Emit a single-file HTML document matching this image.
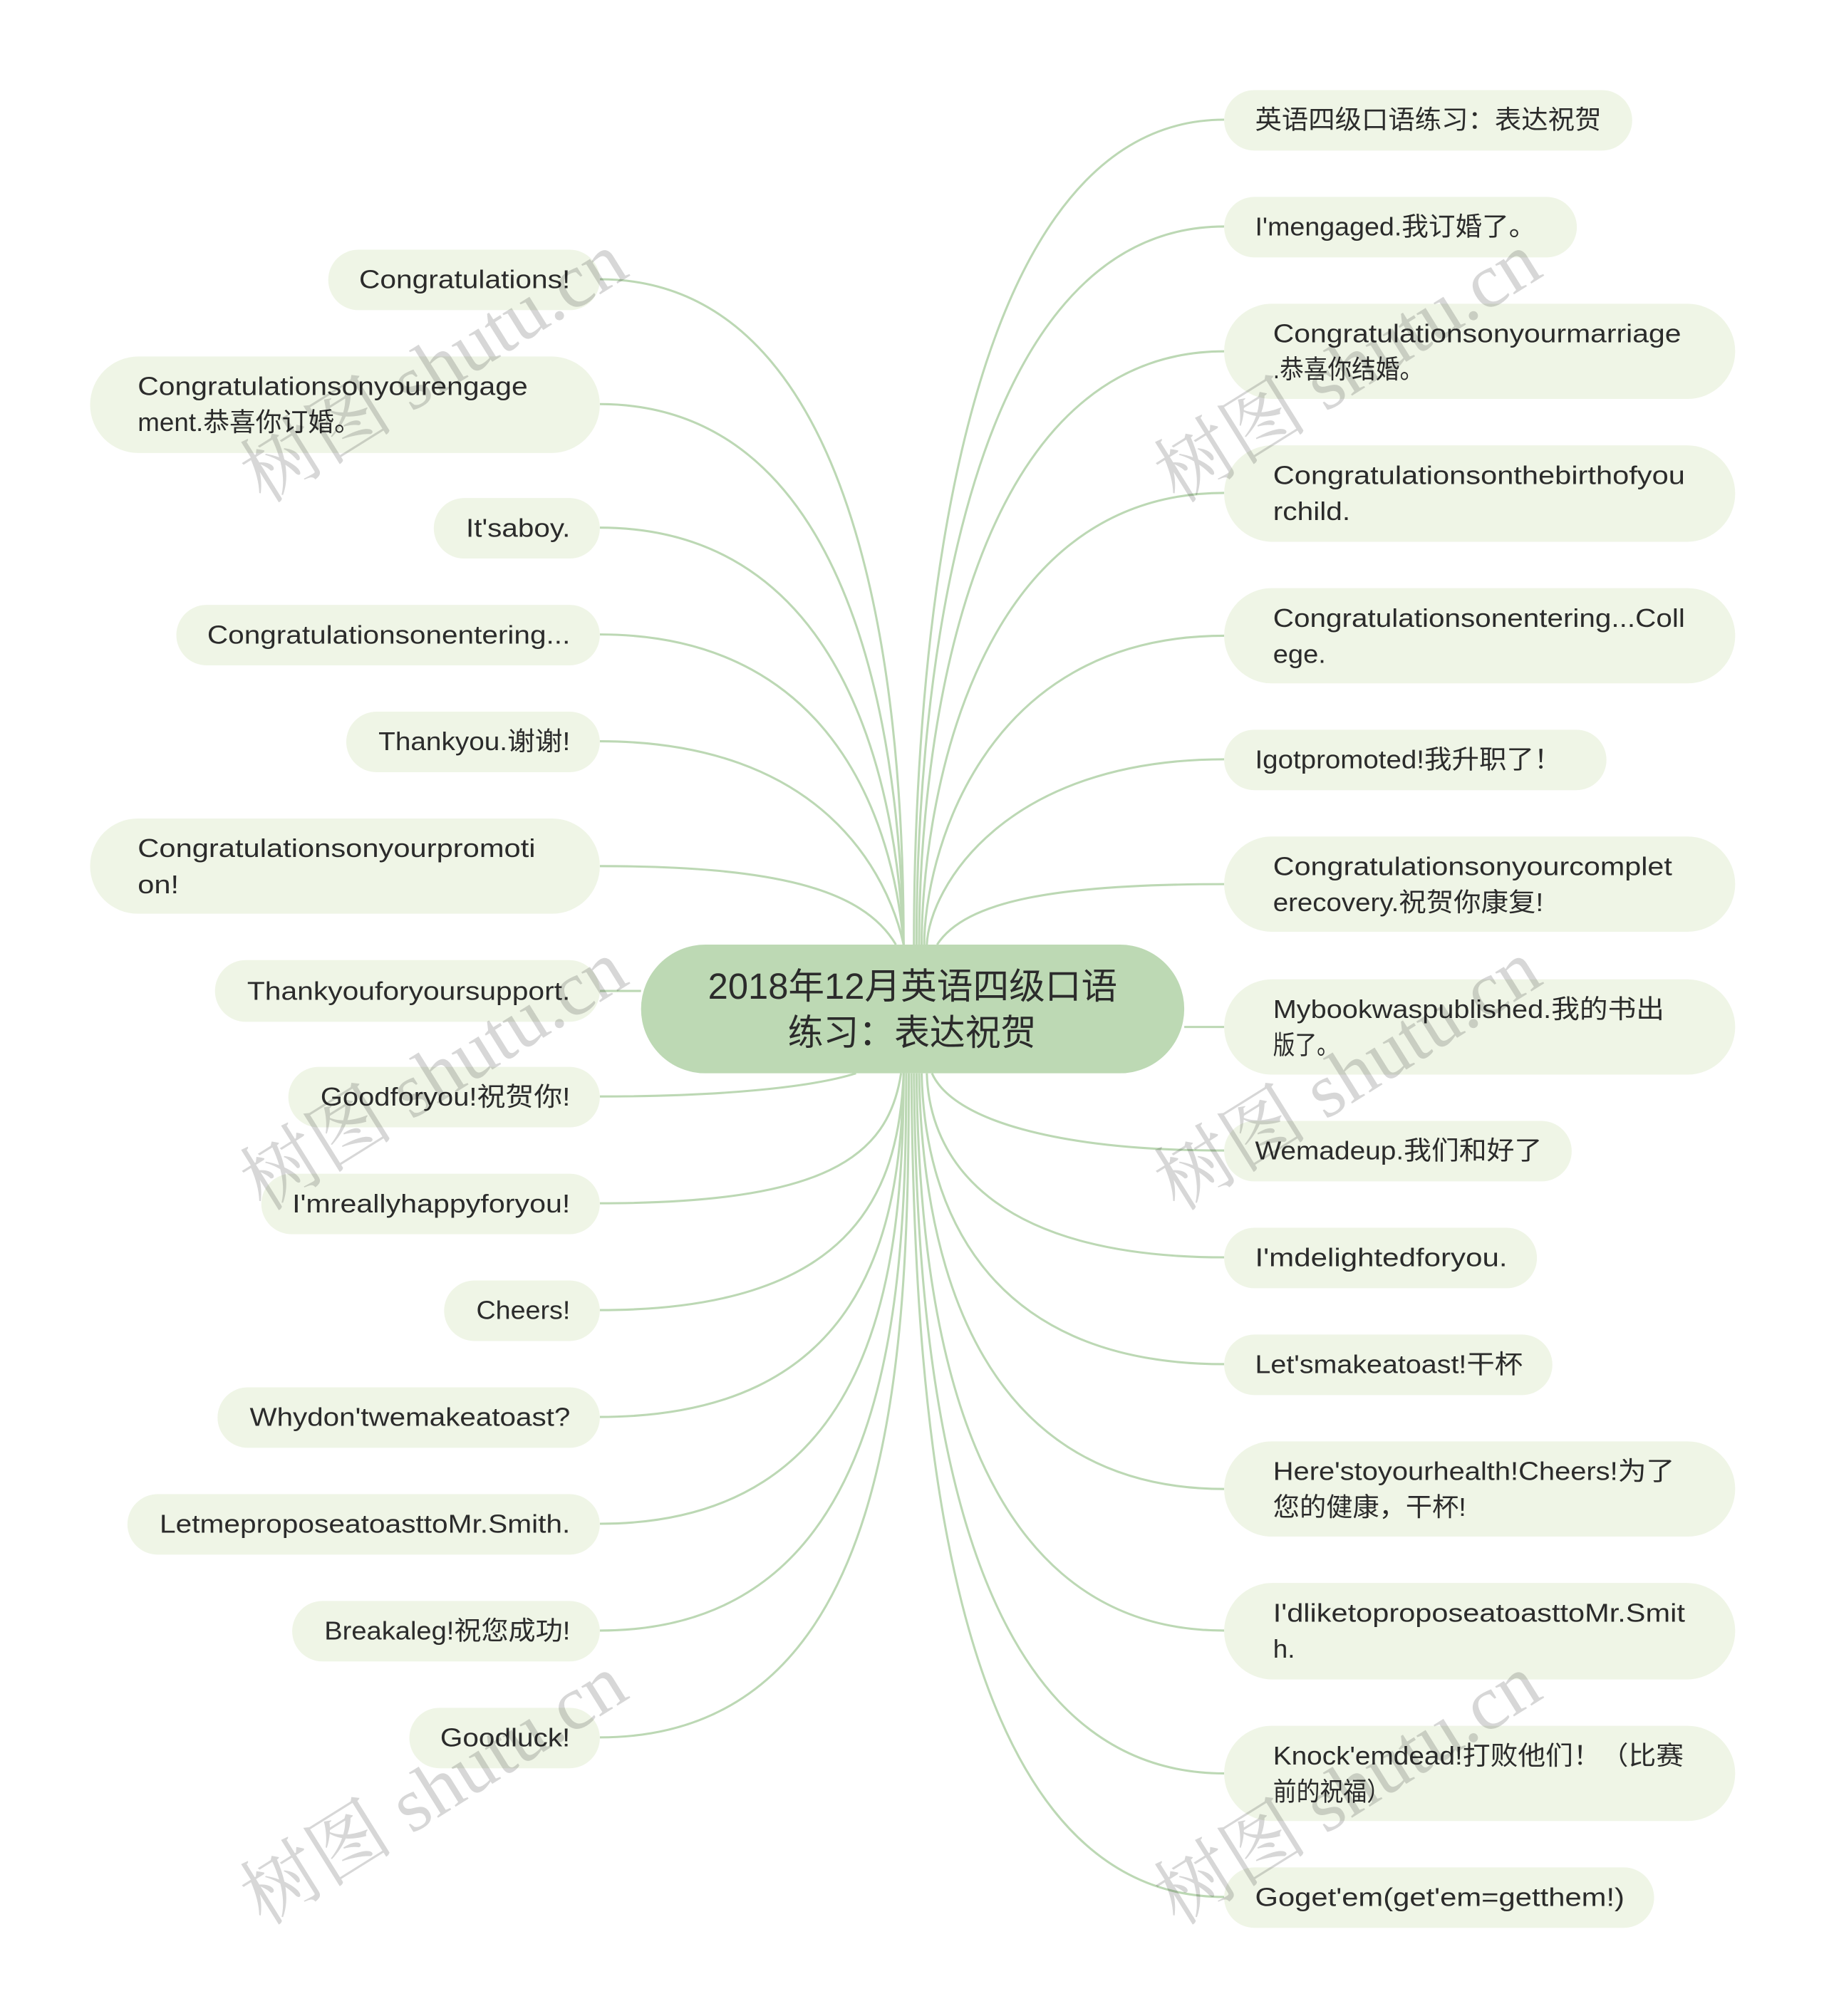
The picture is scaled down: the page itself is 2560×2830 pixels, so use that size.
<!DOCTYPE html>
<html><head><meta charset="utf-8"><style>
html,body{margin:0;padding:0;background:#fff;}
svg{display:block;}
text{font-family:"Liberation Sans","Noto Sans CJK SC",sans-serif;fill:#2b2b2b;}
text.wm{font-family:"Liberation Serif","Noto Serif CJK SC",serif;fill:#000;}
</style></head><body>
<svg width="2560" height="2830" viewBox="0 0 1417 1566.5" preserveAspectRatio="none" xmlns="http://www.w3.org/2000/svg">
<g fill="none" stroke="#bcd8b4" stroke-width="1.7">
<path d="M466,217 C690,217 702,600 702,734"/>
<path d="M466,314 C680,314 700,620 702,734"/>
<path d="M466,410 C670,410 698,640 702,734"/>
<path d="M466,493 C660,493 696,660 702,734"/>
<path d="M466,576 C640,576 690,680 702,734"/>
<path d="M466,673 C600,673 670,690 696,734"/>
<path d="M466,770 L498,770"/>
<path d="M466,852 C560,852 630,845 665,834"/>
<path d="M466,935 C640,935 690,900 700,834"/>
<path d="M466,1018 C660,1018 698,930 702,834"/>
<path d="M466,1101 C670,1101 700,960 702,834"/>
<path d="M466,1184 C680,1184 702,990 702,834"/>
<path d="M466,1267 C690,1267 704,1020 704,834"/>
<path d="M466,1350 C695,1350 706,1060 706,834"/>
<path d="M951,93 C730,93 710,560 710,734"/>
<path d="M951,176 C735,176 712,580 712,734"/>
<path d="M951,273 C740,273 714,610 714,734"/>
<path d="M951,383 C750,383 716,640 716,734"/>
<path d="M951,494 C760,494 718,670 718,734"/>
<path d="M951,590 C780,590 722,690 720,734"/>
<path d="M951,687 C820,687 750,700 728,734"/>
<path d="M951,798 L920,798"/>
<path d="M951,894 C820,894 740,870 724,834"/>
<path d="M951,977 C770,977 722,900 720,834"/>
<path d="M951,1060 C760,1060 718,930 716,834"/>
<path d="M951,1157 C750,1157 716,960 714,834"/>
<path d="M951,1267 C740,1267 714,1000 712,834"/>
<path d="M951,1378 C735,1378 712,1040 710,834"/>
<path d="M951,1474 C730,1474 710,1080 708,834"/>
</g>
<rect x="498" y="734" width="422" height="100" rx="50" fill="#bdd9b4"/>
<text x="550" y="776" font-size="28" textLength="318" lengthAdjust="spacingAndGlyphs">2018年12月英语四级口语</text>
<text x="612" y="812" font-size="28" textLength="193" lengthAdjust="spacingAndGlyphs">练习：表达祝贺</text>
<g fill="#eff5e6">
<rect x="255" y="194" width="211" height="47" rx="23.5"/>
<rect x="70" y="277" width="396" height="75" rx="37.5"/>
<rect x="337" y="387" width="129" height="47" rx="23.5"/>
<rect x="137" y="470" width="329" height="47" rx="23.5"/>
<rect x="269" y="553" width="197" height="47" rx="23.5"/>
<rect x="70" y="636" width="396" height="74" rx="37"/>
<rect x="167" y="746" width="299" height="48" rx="24"/>
<rect x="224" y="829" width="242" height="47" rx="23.5"/>
<rect x="203" y="912" width="263" height="47" rx="23.5"/>
<rect x="345" y="995" width="121" height="47" rx="23.5"/>
<rect x="169" y="1078" width="297" height="47" rx="23.5"/>
<rect x="99" y="1161" width="367" height="47" rx="23.5"/>
<rect x="227" y="1244" width="239" height="47" rx="23.5"/>
<rect x="318" y="1327" width="148" height="47" rx="23.5"/>
<rect x="951" y="70" width="317" height="47" rx="23.5"/>
<rect x="951" y="153" width="274" height="47" rx="23.5"/>
<rect x="951" y="236" width="397" height="74" rx="37"/>
<rect x="951" y="346" width="397" height="75" rx="37.5"/>
<rect x="951" y="457" width="397" height="74" rx="37"/>
<rect x="951" y="567" width="297" height="47" rx="23.5"/>
<rect x="951" y="650" width="397" height="74" rx="37"/>
<rect x="951" y="761" width="397" height="74" rx="37"/>
<rect x="951" y="871" width="270" height="47" rx="23.5"/>
<rect x="951" y="954" width="243" height="47" rx="23.5"/>
<rect x="951" y="1037" width="255" height="47" rx="23.5"/>
<rect x="951" y="1120" width="397" height="74" rx="37"/>
<rect x="951" y="1230" width="397" height="75" rx="37.5"/>
<rect x="951" y="1341" width="397" height="74" rx="37"/>
<rect x="951" y="1451" width="334" height="47" rx="23.5"/>
</g>
<g font-size="20">
<text x="279" y="224" textLength="164" lengthAdjust="spacingAndGlyphs">Congratulations!</text>
<text x="107" y="307" textLength="303" lengthAdjust="spacingAndGlyphs">Congratulationsonyourengage</text>
<text x="107" y="335" textLength="173" lengthAdjust="spacingAndGlyphs">ment.恭喜你订婚。</text>
<text x="362" y="417" textLength="81" lengthAdjust="spacingAndGlyphs">It'saboy.</text>
<text x="161" y="500" textLength="282" lengthAdjust="spacingAndGlyphs">Congratulationsonentering...</text>
<text x="294" y="583" textLength="149" lengthAdjust="spacingAndGlyphs">Thankyou.谢谢!</text>
<text x="107" y="666" textLength="309" lengthAdjust="spacingAndGlyphs">Congratulationsonyourpromoti</text>
<text x="107" y="694" textLength="32" lengthAdjust="spacingAndGlyphs">on!</text>
<text x="192" y="777" textLength="251" lengthAdjust="spacingAndGlyphs">Thankyouforyoursupport.</text>
<text x="249" y="859" textLength="194" lengthAdjust="spacingAndGlyphs">Goodforyou!祝贺你!</text>
<text x="227" y="942" textLength="216" lengthAdjust="spacingAndGlyphs">I'mreallyhappyforyou!</text>
<text x="370" y="1025" textLength="73" lengthAdjust="spacingAndGlyphs">Cheers!</text>
<text x="194" y="1108" textLength="249" lengthAdjust="spacingAndGlyphs">Whydon'twemakeatoast?</text>
<text x="124" y="1191" textLength="319" lengthAdjust="spacingAndGlyphs">LetmeproposeatoasttoMr.Smith.</text>
<text x="252" y="1274" textLength="191" lengthAdjust="spacingAndGlyphs">Breakaleg!祝您成功!</text>
<text x="342" y="1357" textLength="101" lengthAdjust="spacingAndGlyphs">Goodluck!</text>
<text x="975" y="100" textLength="269" lengthAdjust="spacingAndGlyphs">英语四级口语练习：表达祝贺</text>
<text x="975" y="183" textLength="218" lengthAdjust="spacingAndGlyphs">I'mengaged.我订婚了。</text>
<text x="989" y="266" textLength="317" lengthAdjust="spacingAndGlyphs">Congratulationsonyourmarriage</text>
<text x="989" y="294" textLength="117" lengthAdjust="spacingAndGlyphs">.恭喜你结婚。</text>
<text x="989" y="376" textLength="320" lengthAdjust="spacingAndGlyphs">Congratulationsonthebirthofyou</text>
<text x="989" y="404" textLength="60" lengthAdjust="spacingAndGlyphs">rchild.</text>
<text x="989" y="487" textLength="320" lengthAdjust="spacingAndGlyphs">Congratulationsonentering...Coll</text>
<text x="989" y="515" textLength="41" lengthAdjust="spacingAndGlyphs">ege.</text>
<text x="975" y="597" textLength="238" lengthAdjust="spacingAndGlyphs">Igotpromoted!我升职了！</text>
<text x="989" y="680" textLength="310" lengthAdjust="spacingAndGlyphs">Congratulationsonyourcomplet</text>
<text x="989" y="708" textLength="210" lengthAdjust="spacingAndGlyphs">erecovery.祝贺你康复!</text>
<text x="989" y="791" textLength="304" lengthAdjust="spacingAndGlyphs">Mybookwaspublished.我的书出</text>
<text x="989" y="819" textLength="51" lengthAdjust="spacingAndGlyphs">版了。</text>
<text x="975" y="901" textLength="223" lengthAdjust="spacingAndGlyphs">Wemadeup.我们和好了</text>
<text x="975" y="984" textLength="196" lengthAdjust="spacingAndGlyphs">I'mdelightedforyou.</text>
<text x="975" y="1067" textLength="208" lengthAdjust="spacingAndGlyphs">Let'smakeatoast!干杯</text>
<text x="989" y="1150" textLength="312" lengthAdjust="spacingAndGlyphs">Here'stoyourhealth!Cheers!为了</text>
<text x="989" y="1178" textLength="150" lengthAdjust="spacingAndGlyphs">您的健康，干杯!</text>
<text x="989" y="1260" textLength="320" lengthAdjust="spacingAndGlyphs">I'dliketoproposeatoasttoMr.Smit</text>
<text x="989" y="1288" textLength="17" lengthAdjust="spacingAndGlyphs">h.</text>
<text x="989" y="1371" textLength="319" lengthAdjust="spacingAndGlyphs">Knock'emdead!打败他们！（比赛</text>
<text x="989" y="1399" textLength="91" lengthAdjust="spacingAndGlyphs">前的祝福）</text>
<text x="975" y="1481" textLength="287" lengthAdjust="spacingAndGlyphs">Goget'em(get'em=getthem!)</text>
</g>
<g font-size="60" opacity="0.16">
<text class="wm" x="205" y="392" transform="rotate(-32 205 392)">树图 shutu.cn</text>
<text class="wm" x="205" y="942" transform="rotate(-32 205 942)">树图 shutu.cn</text>
<text class="wm" x="205" y="1497" transform="rotate(-32 205 1497)">树图 shutu.cn</text>
<text class="wm" x="915" y="392" transform="rotate(-32 915 392)">树图 shutu.cn</text>
<text class="wm" x="915" y="942" transform="rotate(-32 915 942)">树图 shutu.cn</text>
<text class="wm" x="915" y="1497" transform="rotate(-32 915 1497)">树图 shutu.cn</text>
</g>
</svg>
</body></html>
